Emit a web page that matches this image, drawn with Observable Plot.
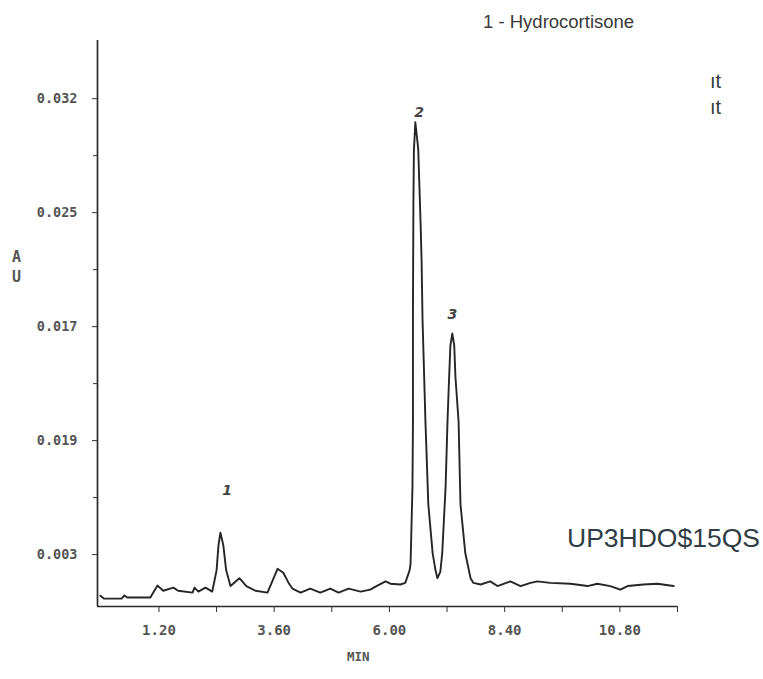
<!DOCTYPE html>
<html><head><meta charset="utf-8">
<script src="https://cdn.jsdelivr.net/npm/d3@7"></script>
<script src="https://cdn.jsdelivr.net/npm/@observablehq/plot@0.6"></script>
<style>
body{margin:0;background:#fff;}
#wrap{position:relative;width:763px;height:679px;overflow:hidden;}
#wrap svg{position:absolute;left:0;top:0;}
.ann{position:absolute;white-space:nowrap;font-family:"Liberation Sans",Arial,sans-serif;color:#3a3a3a;line-height:1;}
.mono{position:absolute;white-space:nowrap;font-family:"DejaVu Sans Mono",monospace;font-weight:bold;color:#555;line-height:1;}
</style></head><body><div id="wrap"></div>
<script>
// Chromatogram trace (time in min, absorbance in AU)
const time = [-0.02,0.06,0.42,0.48,0.54,1.02,1.17,1.29,1.50,1.60,1.90,1.94,2.02,2.17,2.31,2.40,2.44,2.48,2.54,2.60,2.69,2.875,3.02,3.21,3.46,3.56,3.67,3.79,3.90,3.98,4.15,4.35,4.56,4.77,4.94,5.15,5.40,5.60,5.75,5.92,6.02,6.23,6.33,6.42,6.44,6.48,6.49,6.49,6.50,6.51,6.54,6.60,6.65,6.67,6.69,6.75,6.81,6.90,6.96,7.00,7.06,7.10,7.17,7.21,7.24,7.27,7.31,7.35,7.375,7.44,7.48,7.58,7.69,7.75,7.90,8.10,8.25,8.52,8.73,8.94,9.08,9.35,9.77,10.125,10.33,10.60,10.81,10.96,11.29,11.58,11.92];
const absorbance = [0.00039,0.0002,0.0002,0.0004,0.00027,0.00027,0.00103,0.0007,0.0009,0.0007,0.00058,0.0009,0.00065,0.0009,0.00065,0.002,0.0036,0.0044,0.0036,0.002,0.001,0.0015,0.001,0.0007,0.00058,0.0013,0.0021,0.00185,0.0012,0.00084,0.00058,0.00084,0.00058,0.00084,0.00058,0.00084,0.00065,0.00077,0.00103,0.0013,0.00115,0.0011,0.0012,0.002,0.0024,0.0073,0.0115,0.0185,0.0255,0.0287,0.0305,0.0288,0.024,0.0217,0.0179,0.0115,0.0062,0.0031,0.002,0.0015,0.0019,0.0031,0.0073,0.0115,0.014,0.0163,0.01706,0.0163,0.0143,0.0115,0.0062,0.0031,0.0015,0.0012,0.0011,0.0013,0.001,0.0013,0.001,0.0012,0.0013,0.0012,0.00115,0.001,0.00115,0.001,0.00077,0.001,0.0011,0.00115,0.001];

// Peak labels
const peakLabels = ["1","2","3"];
const peakLabelTime = [2.62, 6.62, 7.31];
const peakLabelValue = [0.0071, 0.0311, 0.0183];

// Axis ticks
const yTickValues = [0.003, 0.01025, 0.0175, 0.02475, 0.032];
const yTickLabels = ["0.003","0.019","0.017","0.025","0.032"];
const yMinorTicks = [0.006625, 0.013875, 0.021125, 0.028375];
const xTickValues = [1.2, 3.6, 6.0, 8.4, 10.8];
const xTickLabels = ["1.20","3.60","6.00","8.40","10.80"];
const xMinorTicks = [2.4, 4.8, 7.2, 9.6, 12.0];

const trace = time.map((t, i) => ({t, v: absorbance[i]}));
const peaks = peakLabels.map((s, i) => ({s, t: peakLabelTime[i], v: peakLabelValue[i]}));
const yMin = -0.0003, yMax = 0.0357, xMin = -0.08, xMax = 12.0;

const plot = Plot.plot({
  width: 763, height: 679,
  marginLeft: 97, marginRight: 86, marginTop: 40, marginBottom: 73,
  x: {domain: [xMin, xMax], axis: null},
  y: {domain: [yMin, yMax], axis: null},
  style: {fontFamily: "DejaVu Sans Mono, monospace", fontWeight: "bold", color: "#555", background: "#fff"},
  marks: [
    Plot.ruleX([xMin], {stroke: "#2a2a2a", strokeWidth: 1.7}),
    Plot.ruleY([yMin], {stroke: "#2a2a2a", strokeWidth: 1.7}),
    Plot.axisY(yTickValues, {anchor: "left", tickSize: 5, tickPadding: 15, fontSize: 13.5, stroke: "#333", fill: "#555",
      tickFormat: d => yTickLabels[yTickValues.indexOf(d)], label: null}),
    Plot.axisY(yMinorTicks, {anchor: "left", tickSize: 4, stroke: "#333", tickFormat: () => "", label: null}),
    Plot.axisX(xTickValues, {anchor: "bottom", tickSize: 6, tickPadding: 13, fontSize: 14, stroke: "#333", fill: "#555",
      tickFormat: d => xTickLabels[xTickValues.indexOf(d)], label: null}),
    Plot.axisX(xMinorTicks, {anchor: "bottom", tickSize: 6, stroke: "#333", tickFormat: () => "", label: null}),
    Plot.line(trace, {x: "t", y: "v", stroke: "#252525", strokeWidth: 1.9, strokeLinejoin: "round"}),
    Plot.text(peaks, {x: "t", y: "v", text: "s", fontSize: 14, fontStyle: "italic", fontWeight: "bold", fill: "#444",
      fontFamily: "DejaVu Sans, sans-serif"})
  ]
});
const wrap = document.getElementById("wrap");
wrap.appendChild(plot);

function addText(cls, txt, left, top, size, extra) {
  const d = document.createElement("div");
  d.className = cls;
  d.textContent = txt;
  d.style.left = left + "px";
  d.style.top = top + "px";
  d.style.fontSize = size + "px";
  if (extra) Object.assign(d.style, extra);
  wrap.appendChild(d);
}
addText("ann", "1 - Hydrocortisone", 483, 13, 18.5);
addText("ann", "ıt", 710, 71, 20);
addText("ann", "ıt", 710, 97, 20);
addText("ann", "UP3HDO$15QS", 567, 525, 26.5, {color: "#2f3d44"});
addText("mono", "A", 12, 250, 15);
addText("mono", "U", 12, 270, 15);
addText("mono", "MIN", 347, 651, 12.5);
</script></body></html>
